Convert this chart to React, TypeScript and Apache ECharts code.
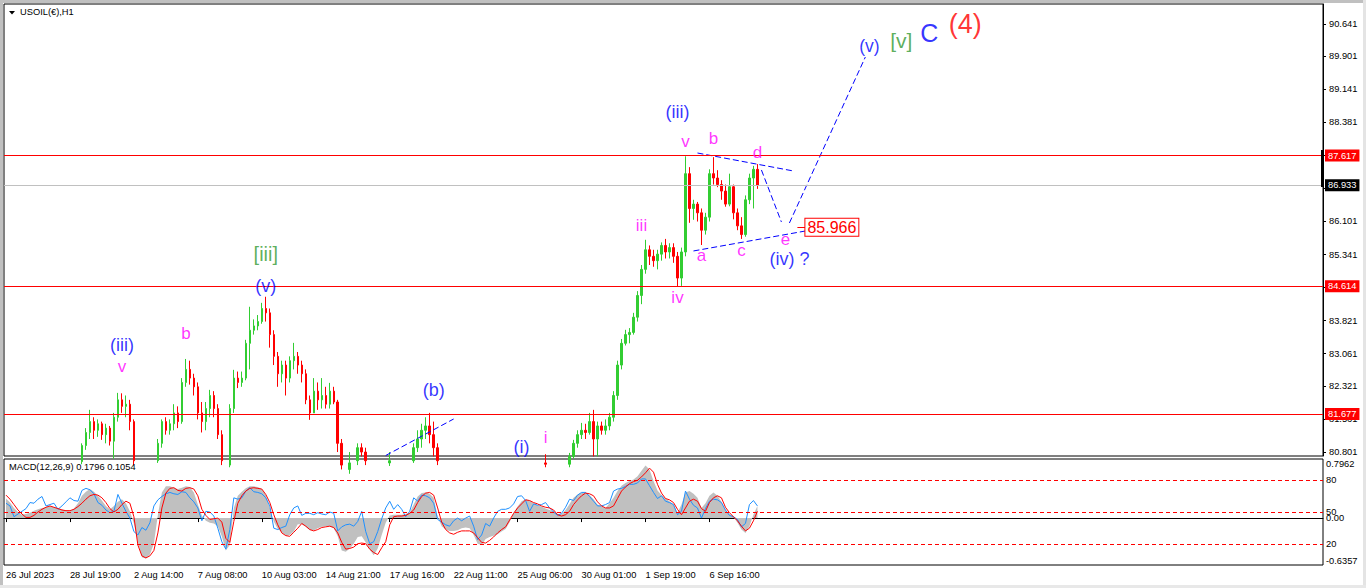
import React, { useEffect, useRef } from "react";
import * as echarts from "echarts";

const FONT = "Liberation Sans, Arial, sans-serif";

const timeLabels = [
  "26 Jul 2023", "28 Jul 19:00", "2 Aug 14:00", "7 Aug 08:00", "10 Aug 03:00", "14 Aug 21:00",
  "17 Aug 16:00", "22 Aug 11:00", "25 Aug 06:00", "30 Aug 01:00", "1 Sep 19:00", "6 Sep 16:00",
];
const LABEL_STEP = 16;
const TOTAL_SLOTS = 330;

const priceTicks = [90.641, 89.901, 89.141, 88.381, 87.621, 86.861, 86.101, 85.341, 84.581, 83.821, 83.061, 82.321, 81.561, 80.801];
// tick labels that the level boxes do not cover
const priceTickLabels = [90.641, 89.901, 89.141, 88.381, 86.101, 85.341, 83.821, 83.061, 82.321, 81.561, 80.801];
const macdTicks = [0.7962, 0, -0.6357];
const stochLevels = [80, 50, 20];
const redLevels = [87.617, 84.614, 81.677];
const bidPrice = 86.933;
const targetPrice = 85.966;

// [open, close, low, high]
const ohlc = [
  [80.40,80.35,80.25,80.50],[80.35,80.28,80.18,80.42],[80.28,80.20,80.10,80.35],[80.20,80.25,80.12,80.32],
  [80.25,80.30,80.18,80.38],[80.30,80.36,80.22,80.44],[80.36,80.42,80.30,80.50],[80.42,80.40,80.32,80.52],
  [80.40,80.48,80.35,80.56],[80.48,80.52,80.40,80.60],[80.52,80.45,80.38,80.58],[80.45,80.50,80.40,80.60],
  [80.50,80.46,80.38,80.58],[80.46,80.42,80.34,80.54],[80.42,80.48,80.36,80.56],[80.48,80.52,80.42,80.62],
  [80.52,80.50,80.44,80.60],[80.50,80.55,80.44,80.64],[80.55,80.58,80.48,80.66],[80.58,80.95,80.52,81.00],
  [80.95,81.25,80.85,81.35],[81.25,81.50,81.10,81.77],[81.50,81.30,81.10,81.60],[81.30,81.45,81.15,81.55],
  [81.45,81.20,81.08,81.50],[81.20,81.35,81.00,81.45],[81.35,81.05,80.95,81.40],[81.05,81.60,80.65,81.70],
  [81.60,82.00,81.50,82.16],[82.00,81.85,81.70,82.15],[81.85,81.90,81.60,82.10],[81.90,81.50,81.30,82.00],
  [81.50,80.60,80.50,81.55],[80.60,80.20,80.05,80.65],[80.20,79.90,79.75,80.30],[79.90,80.05,79.80,80.20],
  [80.05,80.30,79.95,80.40],[80.30,80.60,80.20,80.68],[80.60,81.00,80.55,81.10],[81.00,81.50,80.90,81.55],
  [81.50,81.30,81.20,81.60],[81.30,81.45,81.20,81.55],[81.45,81.70,81.30,81.90],[81.70,81.50,81.35,81.85],
  [81.50,82.40,81.45,82.50],[82.40,82.70,82.30,82.94],[82.70,82.50,82.35,82.90],[82.50,82.30,82.10,82.60],
  [82.30,81.70,81.55,82.40],[81.70,81.50,81.25,81.95],[81.50,81.80,81.30,81.95],[81.80,82.10,81.60,82.23],
  [82.10,81.80,81.60,82.20],[81.80,81.20,81.10,81.90],[81.20,80.60,80.50,81.30],[80.60,80.50,80.35,80.68],
  [80.50,81.80,80.45,81.90],[81.80,82.50,81.70,82.69],[82.50,82.40,82.27,82.65],[82.40,82.50,82.30,82.65],
  [82.50,83.30,82.45,83.38],[83.30,83.60,82.70,84.14],[83.60,83.70,83.50,83.85],[83.70,83.80,83.60,83.95],
  [83.80,84.10,83.75,84.23],[84.10,84.00,83.80,84.37],[84.00,83.50,83.20,84.10],[83.50,83.00,82.80,83.60],
  [83.00,82.60,82.30,83.10],[82.60,82.80,82.40,82.90],[82.80,82.50,82.10,82.90],[82.50,82.90,82.40,83.00],
  [82.90,83.00,82.70,83.31],[83.00,82.80,82.60,83.10],[82.80,82.60,82.40,82.90],[82.60,82.00,81.90,82.70],
  [82.00,81.70,81.54,82.10],[81.70,82.20,81.70,82.50],[82.20,82.00,81.77,82.40],[82.00,82.10,81.80,82.50],
  [82.10,81.90,81.80,82.30],[81.90,82.20,81.80,82.39],[82.20,81.95,81.90,82.30],[81.95,81.00,80.80,82.00],
  [81.00,80.50,80.40,81.10],[80.50,80.40,80.30,80.62],[80.40,80.55,80.30,80.80],[80.55,80.60,80.45,80.68],
  [80.60,80.90,80.50,81.00],[80.90,80.80,80.70,81.00],[80.80,80.60,80.50,80.90],[80.60,80.45,80.35,80.65],
  [80.45,80.30,80.20,80.50],[80.30,80.40,80.22,80.48],[80.40,80.50,80.32,80.58],[80.50,80.55,80.42,80.62],
  [80.55,80.60,80.48,80.80],[80.60,80.50,80.42,80.66],[80.50,80.55,80.40,80.62],[80.55,80.48,80.40,80.62],
  [80.48,80.45,80.36,80.55],[80.45,80.60,80.40,80.66],[80.60,80.90,80.55,81.00],[80.90,81.10,80.80,81.30],
  [81.10,81.30,80.90,81.45],[81.30,81.40,81.10,81.60],[81.40,81.20,81.00,81.70],[81.20,80.90,80.70,81.50],
  [80.90,80.60,80.50,81.00],[80.60,80.40,80.30,80.65],[80.40,80.35,80.25,80.50],[80.35,80.30,80.20,80.45],
  [80.30,80.35,80.22,80.45],[80.35,80.40,80.28,80.50],[80.40,80.38,80.30,80.50],[80.38,80.42,80.30,80.52],
  [80.42,80.35,80.25,80.50],[80.35,80.15,80.05,80.40],[80.15,79.95,79.85,80.20],[79.95,80.00,79.85,80.10],
  [80.00,80.10,79.92,80.20],[80.10,80.05,79.95,80.18],[80.05,80.12,79.98,80.22],[80.12,80.18,80.05,80.28],
  [80.18,80.22,80.10,80.30],[80.22,80.26,80.15,80.35],[80.26,80.35,80.20,80.42],[80.35,80.45,80.30,80.52],
  [80.45,80.55,80.40,80.62],[80.55,80.58,80.45,80.66],[80.58,80.52,80.45,80.64],[80.52,80.48,80.40,80.60],
  [80.48,80.52,80.42,80.60],[80.52,80.50,80.42,80.62],[80.50,80.55,80.44,80.64],[80.55,80.52,80.45,80.75],
  [80.52,80.48,80.40,80.60],[80.48,80.45,80.38,80.56],[80.45,80.40,80.32,80.52],[80.40,80.45,80.34,80.55],
  [80.45,80.52,80.40,80.62],[80.52,80.70,80.45,80.78],[80.70,81.00,80.65,81.08],[81.00,81.20,80.90,81.30],
  [81.20,81.30,81.10,81.47],[81.30,81.25,81.10,81.45],[81.25,81.50,81.20,81.70],[81.50,81.10,80.70,81.77],
  [81.10,81.40,80.70,81.50],[81.40,81.30,81.20,81.50],[81.30,81.40,81.20,81.55],[81.40,81.60,81.30,81.70],
  [81.60,82.10,81.50,82.20],[82.10,82.80,82.00,82.90],[82.80,83.30,82.70,83.40],[83.30,83.50,83.25,83.61],
  [83.50,83.55,83.30,83.65],[83.55,83.90,83.50,84.00],[83.90,84.40,83.80,84.50],[84.40,85.00,84.20,85.10],
  [85.00,85.45,84.90,85.68],[85.45,85.30,85.10,85.55],[85.30,85.20,85.06,85.45],[85.20,85.35,85.00,85.45],
  [85.35,85.55,85.20,85.62],[85.55,85.40,85.25,85.70],[85.40,85.50,85.25,85.60],[85.50,85.30,85.15,85.60],
  [85.30,84.80,84.60,85.40],[84.80,85.40,84.62,85.50],[85.40,87.20,85.30,87.60],[87.20,86.40,86.07,87.35],
  [86.40,86.50,86.14,86.60],[86.50,86.30,86.10,86.55],[86.30,85.90,85.56,86.40],[85.90,86.20,85.80,86.30],
  [86.20,87.20,86.10,87.30],[87.20,87.10,86.95,87.58],[87.10,86.95,86.89,87.28],[86.95,86.80,86.60,87.05],
  [86.80,86.50,86.44,86.95],[86.50,86.90,86.45,87.20],[86.90,86.30,86.15,86.95],[86.30,86.00,85.90,86.40],
  [86.00,85.80,85.70,86.20],[85.80,86.60,85.75,86.70],[86.60,87.10,86.50,87.20],[87.10,87.30,86.40,87.38],
  [87.30,86.93,86.85,87.42],
];

const macdHist = [
  0.29,0.23,0.15,0.09,0.05,0.06,0.08,0.11,0.13,0.15,0.16,0.18,0.16,0.15,0.13,0.11,0.10,0.14,0.22,0.33,
  0.39,0.43,0.39,0.33,0.26,0.18,0.13,0.18,0.24,0.28,0.22,0.10,-0.08,-0.35,-0.58,-0.60,-0.54,-0.38,0.05,0.38,
  0.47,0.47,0.45,0.43,0.45,0.47,0.46,0.38,0.20,0.04,-0.04,-0.07,-0.08,-0.12,-0.27,-0.48,-0.40,0.15,0.33,0.39,
  0.44,0.47,0.47,0.46,0.43,0.34,0.15,-0.05,-0.16,-0.21,-0.26,-0.25,-0.20,-0.09,-0.09,-0.13,-0.18,-0.18,-0.15,-0.13,
  -0.12,-0.12,-0.15,-0.27,-0.48,-0.50,-0.45,-0.38,-0.28,-0.27,-0.36,-0.47,-0.55,-0.45,-0.25,-0.07,0.04,0.05,0.05,0.05,
  0.06,0.08,0.20,0.32,0.37,0.38,0.36,0.30,0.02,-0.12,-0.17,-0.19,-0.19,-0.18,-0.15,-0.14,-0.15,-0.25,-0.38,-0.40,
  -0.31,-0.28,-0.26,-0.24,-0.20,-0.16,-0.06,0.08,0.17,0.25,0.28,0.26,0.22,0.19,0.17,0.14,0.12,0.10,0.06,0.06,
  0.12,0.21,0.30,0.35,0.38,0.38,0.34,0.28,0.20,0.17,0.15,0.22,0.30,0.40,0.48,0.52,0.55,0.57,0.62,0.70,
  0.78,0.72,0.55,0.41,0.34,0.29,0.25,0.20,0.08,0.20,0.38,0.40,0.36,0.30,0.15,0.22,0.33,0.38,0.33,0.24,
  0.12,0.06,0.02,-0.07,-0.17,-0.22,-0.12,0.05,0.18,
];

const macdSignal = [
  0.34,0.28,0.20,0.12,0.06,0.01,0.01,0.04,0.09,0.13,0.16,0.18,0.16,0.14,0.12,0.11,0.11,0.13,0.17,0.22,
  0.28,0.33,0.35,0.34,0.30,0.23,0.14,0.09,0.13,0.20,0.25,0.22,0.02,-0.40,-0.56,-0.59,-0.56,-0.48,-0.22,0.15,
  0.37,0.44,0.45,0.41,0.40,0.44,0.45,0.43,0.33,0.13,0.04,-0.02,-0.01,0.00,-0.06,-0.30,-0.36,-0.05,0.22,0.33,
  0.40,0.44,0.45,0.44,0.43,0.35,0.23,0.05,-0.10,-0.22,-0.26,-0.27,-0.21,-0.15,-0.08,-0.12,-0.17,-0.19,-0.17,-0.14,
  -0.13,-0.12,-0.14,-0.22,-0.36,-0.46,-0.45,-0.43,-0.38,-0.37,-0.38,-0.46,-0.51,-0.54,-0.44,-0.35,-0.10,0.02,0.03,0.03,
  0.04,0.07,0.12,0.23,0.32,0.37,0.38,0.34,0.15,-0.06,-0.17,-0.22,-0.24,-0.21,-0.19,-0.19,-0.19,-0.22,-0.29,-0.36,
  -0.37,-0.33,-0.28,-0.22,-0.17,-0.13,-0.03,0.07,0.15,0.21,0.27,0.26,0.23,0.21,0.18,0.16,0.15,0.12,0.05,0.03,
  0.05,0.10,0.20,0.27,0.33,0.37,0.36,0.33,0.24,0.18,0.15,0.15,0.18,0.29,0.40,0.46,0.51,0.54,0.56,0.61,
  0.67,0.74,0.68,0.50,0.37,0.29,0.27,0.23,0.13,0.05,0.15,0.25,0.28,0.25,0.14,0.10,0.23,0.30,0.33,0.30,
  0.16,0.08,0.02,-0.04,-0.12,-0.19,-0.15,-0.04,0.10,
];

const macdBlue = [
  0.22,0.18,0.02,0.06,0.10,0.14,0.23,0.22,0.28,0.32,0.18,0.20,0.22,0.13,0.18,0.24,0.30,0.26,0.25,0.41,
  0.44,0.42,0.36,0.23,0.19,0.12,0.08,0.10,0.35,0.22,0.10,0.00,-0.20,-0.25,-0.14,-0.18,-0.07,0.18,0.27,0.32,
  0.36,0.38,0.36,0.35,0.39,0.38,0.30,0.24,0.15,-0.04,0.10,0.09,0.03,-0.15,-0.35,-0.46,-0.17,0.30,0.28,0.30,
  0.40,0.45,0.39,0.38,0.36,0.30,0.18,-0.15,-0.17,-0.14,-0.12,0.05,0.15,0.18,0.04,0.07,0.07,0.05,0.08,0.06,
  0.05,0.09,0.07,-0.19,-0.13,-0.10,-0.09,-0.12,-0.05,0.10,-0.20,-0.38,-0.35,-0.20,-0.01,0.15,0.25,0.13,0.20,0.13,
  0.02,0.10,0.30,0.25,0.34,0.33,0.30,0.22,-0.02,-0.06,-0.10,-0.12,-0.04,0.00,-0.04,0.00,0.03,-0.12,-0.32,-0.25,
  -0.08,-0.12,0.00,0.10,0.13,0.13,0.15,0.21,0.32,0.33,0.26,0.10,0.21,0.19,0.20,0.23,0.15,0.09,0.04,0.07,
  0.16,0.28,0.26,0.34,0.38,0.38,0.32,0.25,0.18,0.18,0.20,0.23,0.40,0.43,0.44,0.47,0.50,0.50,0.52,0.58,
  0.58,0.48,0.38,0.29,0.33,0.25,0.23,0.20,0.05,0.10,0.40,0.28,0.19,0.15,0.00,0.14,0.25,0.28,0.27,0.23,
  0.12,0.04,0.02,-0.02,-0.13,-0.08,0.20,0.26,0.18,
];

const MAG = "#ff00ff";
const BLUE = "#0000ff";
const GREEN = "#339933";
const waveLabels = [
  { i: 29, p: 83.262, text: "(iii)", color: BLUE, size: 18 },
  { i: 29, p: 82.756, text: "v", color: MAG, size: 17 },
  { i: 45, p: 83.514, text: "b", color: MAG, size: 17 },
  { i: 65, p: 85.354, text: "[iii]", color: GREEN, size: 20 },
  { i: 65, p: 84.618, text: "(v)", color: BLUE, size: 18 },
  { i: 107, p: 82.227, text: "(b)", color: BLUE, size: 18 },
  { i: 129, p: 80.920, text: "(i)", color: BLUE, size: 18 },
  { i: 135, p: 81.127, text: "i", color: MAG, size: 17 },
  { i: 159, p: 85.997, text: "iii", color: MAG, size: 17 },
  { i: 168, p: 84.342, text: "iv", color: MAG, size: 17 },
  { i: 168, p: 88.618, text: "(iii)", color: BLUE, size: 18 },
  { i: 170, p: 87.951, text: "v", color: MAG, size: 17 },
  { i: 177, p: 88.020, text: "b", color: MAG, size: 17 },
  { i: 188, p: 87.698, text: "d", color: MAG, size: 17 },
  { i: 174, p: 85.308, text: "a", color: MAG, size: 17 },
  { i: 184, p: 85.423, text: "c", color: MAG, size: 17 },
  { i: 195, p: 85.676, text: "e", color: MAG, size: 17 },
  { i: 196, p: 85.239, text: "(iv) ?", color: BLUE, size: 18 },
  { i: 216, p: 90.135, text: "(v)", color: BLUE, size: 17.5 },
  { i: 224, p: 90.273, text: "[v]", color: GREEN, size: 21 },
  { i: 231, p: 90.434, text: "C", color: BLUE, size: 25 },
  { i: 240, p: 90.641, text: "(4)", color: "#ff0000", size: 27 },
];

const trendLines = [
  [[173, 87.675], [197, 87.262]],
  [[172, 85.423], [200, 85.882]],
  [[189, 87.285], [194, 86.089]],
  [[196, 86.066], [215, 89.882]],
  [[95, 80.72], [112, 81.56]],
];

const categories = Array.from({ length: TOTAL_SLOTS }, (_, i) => String(i));
const showTime = (idx: number) => idx % LABEL_STEP === 0 && idx / LABEL_STEP < timeLabels.length;

function levelLabel(text: string, bg: string) {
  return {
    show: true, position: "end", formatter: text, color: "#fff", backgroundColor: bg,
    padding: [2, 3, 1, 3], fontSize: 9.3, fontFamily: FONT, distance: 2,
  };
}

function buildOption(): any {
  const targetLabel = {
    show: true, position: "end", formatter: targetPrice.toFixed(3), color: "#ff0000", backgroundColor: "#fff",
    borderColor: "#ff0000", borderWidth: 1, padding: [1, 2, 0, 2], fontSize: 16, fontFamily: FONT, distance: 0,
  };
  const series: any[] = [
    {
      type: "candlestick",
      xAxisIndex: 0,
      yAxisIndex: 0,
      data: ohlc,
      barWidth: 2,
      clip: true,
      itemStyle: { color: "#32cd32", color0: "#ff0000", borderColor: "#32cd32", borderColor0: "#ff0000", borderWidth: 1 },
      z: 3,
    },
    {
      type: "line",
      xAxisIndex: 0,
      yAxisIndex: 0,
      data: [],
      clip: false,
      z: 2,
      markLine: {
        silent: true,
        symbol: ["none", "none"],
        precision: 3,
        animation: false,
        data: [
          ...redLevels.map((v) => ({
            yAxis: v,
            lineStyle: { color: "#ff0000", width: 1, type: "solid" },
            label: levelLabel(v.toFixed(3), "#ff0000"),
          })),
          {
            yAxis: bidPrice,
            lineStyle: { color: "#c0c0c0", width: 1, type: "solid" },
            label: levelLabel(bidPrice.toFixed(3), "#000"),
          },
          [
            { coord: [198, targetPrice], lineStyle: { color: "#ff0000", width: 1, type: "solid" }, label: targetLabel },
            { coord: [200, targetPrice], lineStyle: { color: "#ff0000", width: 1, type: "solid" }, label: targetLabel },
          ],
        ],
      },
    },
    ...trendLines.map((seg) => ({
      type: "line",
      xAxisIndex: 0,
      yAxisIndex: 0,
      data: seg,
      symbol: "none",
      lineStyle: { color: BLUE, width: 1, type: [6, 3] },
      z: 4,
      silent: true,
    })),
    {
      type: "scatter",
      xAxisIndex: 0,
      yAxisIndex: 0,
      symbolSize: 1,
      itemStyle: { color: "rgba(0,0,0,0)" },
      clip: false,
      z: 5,
      data: waveLabels.map((w) => ({
        value: [w.i, w.p],
        label: { show: true, position: "inside", formatter: w.text, color: w.color, fontSize: w.size, fontFamily: FONT },
      })),
    },
    {
      type: "line",
      xAxisIndex: 1,
      yAxisIndex: 1,
      data: macdHist,
      symbol: "none",
      lineStyle: { width: 0, color: "#c0c0c0" },
      areaStyle: { color: "#c0c0c0", opacity: 1 },
      z: 2,
    },
    {
      type: "line",
      xAxisIndex: 1,
      yAxisIndex: 1,
      data: macdBlue,
      symbol: "none",
      lineStyle: { color: "#1e90ff", width: 1 },
      z: 3,
    },
    {
      type: "line",
      xAxisIndex: 1,
      yAxisIndex: 1,
      data: macdSignal,
      symbol: "none",
      lineStyle: { color: "#ff0000", width: 1 },
      z: 4,
    },
    {
      type: "line",
      xAxisIndex: 1,
      yAxisIndex: 2,
      data: [],
      z: 1,
      markLine: {
        silent: true,
        symbol: ["none", "none"],
        animation: false,
        label: { show: false },
        lineStyle: { color: "#ff0000", width: 1, type: [4, 3] },
        data: stochLevels.map((v) => ({ yAxis: v })),
      },
    },
  ];

  return {
    animation: false,
    backgroundColor: "#ffffff",
    textStyle: { fontFamily: FONT },
    grid: [
      { left: 4, top: 4, width: 1319, height: 452, show: true, borderColor: "#000", borderWidth: 1, backgroundColor: "#fff" },
      { left: 4, top: 459, width: 1319, height: 106, show: true, borderColor: "#000", borderWidth: 1, backgroundColor: "#fff" },
    ],
    xAxis: [
      {
        type: "category",
        gridIndex: 0,
        data: categories,
        boundaryGap: true,
        axisLine: { show: false },
        axisTick: { show: false },
        axisLabel: { show: false },
        splitLine: { show: false },
      },
      {
        type: "category",
        gridIndex: 1,
        data: categories,
        boundaryGap: true,
        axisLine: { show: true, lineStyle: { color: "#000", width: 1 } },
        axisTick: { show: true, alignWithLabel: true, interval: (idx: number) => showTime(idx), length: 4, lineStyle: { color: "#000" } },
        axisLabel: {
          show: true,
          interval: (idx: number) => showTime(idx),
          formatter: (_v: string, idx: number) => (showTime(idx) ? timeLabels[idx / LABEL_STEP] : ""),
          align: "left",
          margin: 5,
          color: "#000",
          fontSize: 9.3,
          fontFamily: FONT,
        },
        splitLine: { show: false },
      },
    ],
    yAxis: [
      {
        type: "value",
        gridIndex: 0,
        position: "right",
        min: 80.709,
        max: 91.101,
        axisLine: { show: true, lineStyle: { color: "#000", width: 1 } },
        axisTick: { show: true, length: 3, customValues: priceTicks, lineStyle: { color: "#000" } },
        axisLabel: { show: true, customValues: priceTickLabels, formatter: (v: number) => v.toFixed(3), margin: 6, color: "#000", fontSize: 9.3, fontFamily: FONT },
        splitLine: { show: false },
      },
      {
        type: "value",
        gridIndex: 1,
        position: "right",
        min: -0.695,
        max: 0.875,
        axisLine: { show: false },
        axisTick: { show: false },
        axisLabel: { show: true, customValues: macdTicks, formatter: (v: number) => (v === 0 ? "0.00" : v.toFixed(4)), margin: 3, color: "#000", fontSize: 9.3, fontFamily: FONT },
        splitLine: { show: false },
      },
      {
        type: "value",
        gridIndex: 1,
        position: "right",
        min: 0,
        max: 100,
        axisLine: { show: false },
        axisTick: { show: false },
        axisLabel: { show: true, customValues: stochLevels, margin: 3, color: "#000", fontSize: 9.3, fontFamily: FONT },
        splitLine: { show: false },
      },
    ],
    graphic: [
      { type: "rect", left: 0, top: 0, shape: { width: 1366, height: 3 }, style: { fill: "#c0c0c0" }, z: -10 },
      { type: "rect", left: 0, top: 0, shape: { width: 3, height: 588 }, style: { fill: "#c0c0c0" }, z: -10 },
      { type: "rect", left: 1363, top: 0, shape: { width: 3, height: 588 }, style: { fill: "#e4e4e4" }, z: -10 },
      { type: "rect", left: 0, top: 585, shape: { width: 1366, height: 3 }, style: { fill: "#e8e8e8" }, z: -10 },
      { type: "rect", left: 1321, top: 150, shape: { width: 3, height: 37 }, style: { fill: "#000" }, z: 10 },
      { type: "polygon", shape: { points: [[9, 11], [15, 11], [12, 14.5]] }, style: { fill: "#000" }, z: 10 },
      { type: "text", left: 20, top: 7, style: { text: "USOIL(€),H1", fontSize: 9.3, fill: "#000", fontFamily: FONT }, z: 10 },
      { type: "text", left: 9, top: 462, style: { text: "MACD(12,26,9) 0.1796 0.1054", fontSize: 9.3, fill: "#000", fontFamily: FONT }, z: 10 },
    ],
    series,
  };
}

export default function App() {
  const ref = useRef<HTMLDivElement>(null);
  useEffect(() => {
    if (!ref.current) return;
    const chart = echarts.init(ref.current, null, { renderer: "svg" });
    chart.setOption(buildOption());
    return () => chart.dispose();
  }, []);
  return (
    <div
      ref={ref}
      style={{ position: "fixed", left: 0, top: 0, width: 1366, height: 588, background: "#fff" }}
    />
  );
}
